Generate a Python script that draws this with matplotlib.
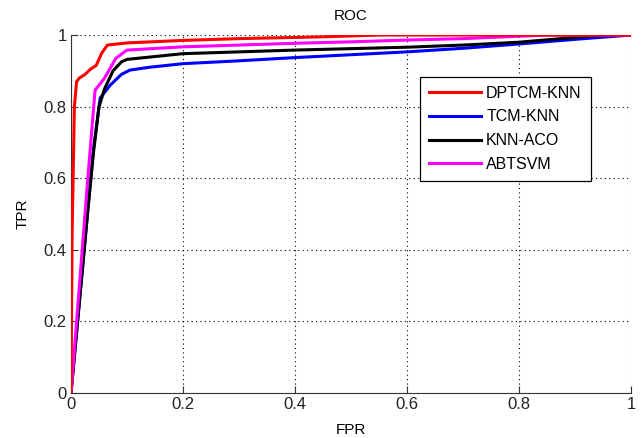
import matplotlib
matplotlib.use('Agg')
import matplotlib.pyplot as plt

plt.rcParams['font.family'] = ['Liberation Sans', 'DejaVu Sans']

# ROC curves
dptcm_fpr = [0, 0.002, 0.004, 0.006, 0.010, 0.015, 0.025, 0.035, 0.045, 0.055, 0.065, 0.10, 0.20, 0.30, 0.45, 0.55, 0.70, 1.0]
dptcm_tpr = [0, 0.45, 0.62, 0.80, 0.87, 0.88, 0.89, 0.905, 0.915, 0.95, 0.972, 0.978, 0.985, 0.99, 0.995, 1.0, 1.0, 1.0]

tcm_fpr = [0, 0.01, 0.02, 0.03, 0.04, 0.052, 0.07, 0.09, 0.105, 0.14, 0.20, 0.30, 0.40, 0.50, 0.60, 0.70, 0.80, 0.90, 1.0]
tcm_tpr = [0, 0.17, 0.34, 0.51, 0.68, 0.824, 0.86, 0.89, 0.902, 0.91, 0.92, 0.928, 0.937, 0.945, 0.953, 0.963, 0.975, 0.988, 1.0]

aco_fpr = [0, 0.01, 0.02, 0.03, 0.04, 0.05, 0.06, 0.075, 0.09, 0.10, 0.20, 0.30, 0.40, 0.50, 0.60, 0.70, 0.80, 0.95, 1.0]
aco_tpr = [0, 0.17, 0.34, 0.51, 0.67, 0.80, 0.85, 0.90, 0.925, 0.932, 0.948, 0.953, 0.958, 0.962, 0.966, 0.972, 0.98, 1.0, 1.0]

abt_fpr = [0, 0.01, 0.02, 0.03, 0.043, 0.06, 0.08, 0.10, 0.20, 0.30, 0.40, 0.50, 0.60, 0.70, 0.85, 1.0]
abt_tpr = [0, 0.2, 0.4, 0.6, 0.846, 0.88, 0.935, 0.958, 0.967, 0.972, 0.977, 0.981, 0.986, 0.99, 1.0, 1.0]

names = ['DPTCM-KNN', 'TCM-KNN', 'KNN-ACO', 'ABTSVM']
colors = ['#ff0000', '#0000ff', '#000000', '#ff00ff']

fig = plt.figure(figsize=(6.42, 4.38), dpi=100)
ax = fig.add_axes([0.1106, 0.1027, 0.8724, 0.8173])

curves = [(dptcm_fpr, dptcm_tpr), (tcm_fpr, tcm_tpr), (aco_fpr, aco_tpr), (abt_fpr, abt_tpr)]
# draw order: red on top like the original
for i in [1, 2, 3, 0]:
    x, y = curves[i]
    ax.plot(x, y, color=colors[i], linewidth=2.2, label=names[i], zorder=3 + (i == 0))

ax.set_xlim(0, 1)
ax.set_ylim(0, 1)
ax.set_xticks([0, 0.2, 0.4, 0.6, 0.8, 1])
ax.set_yticks([0, 0.2, 0.4, 0.6, 0.8, 1])
ax.set_xticklabels(['0', '0.2', '0.4', '0.6', '0.8', '1'])
ax.set_yticklabels(['0', '0.2', '0.4', '0.6', '0.8', '1'])
ax.grid(True, color='black', linestyle=(0, (1, 3)), linewidth=0.8)
ax.spines['top'].set_visible(False)
ax.spines['right'].set_visible(False)
ax.spines['left'].set_color('#333333')
ax.spines['bottom'].set_color('#333333')
ax.tick_params(direction='in', length=5, labelsize=12, colors='#333333', labelcolor='#222222', pad=3)

ax.set_title('ROC', fontsize=11, pad=11)
ax.set_xlabel('FPR', fontsize=11, labelpad=8)
ax.set_ylabel('TPR', fontsize=11, labelpad=10)

handles, labels = ax.get_legend_handles_labels()
order = [labels.index(n) for n in names]
leg = ax.legend([handles[k] for k in order], [labels[k] for k in order],
                loc='upper left', bbox_to_anchor=(0.623, 0.883), borderaxespad=0, fontsize=11.5,
                fancybox=False, edgecolor='black', framealpha=1,
                handlelength=3.3, handletextpad=0.3, borderpad=0.55, labelspacing=0.55)
leg.get_frame().set_linewidth(0.9)

fig.savefig('out.png', dpi=100)
